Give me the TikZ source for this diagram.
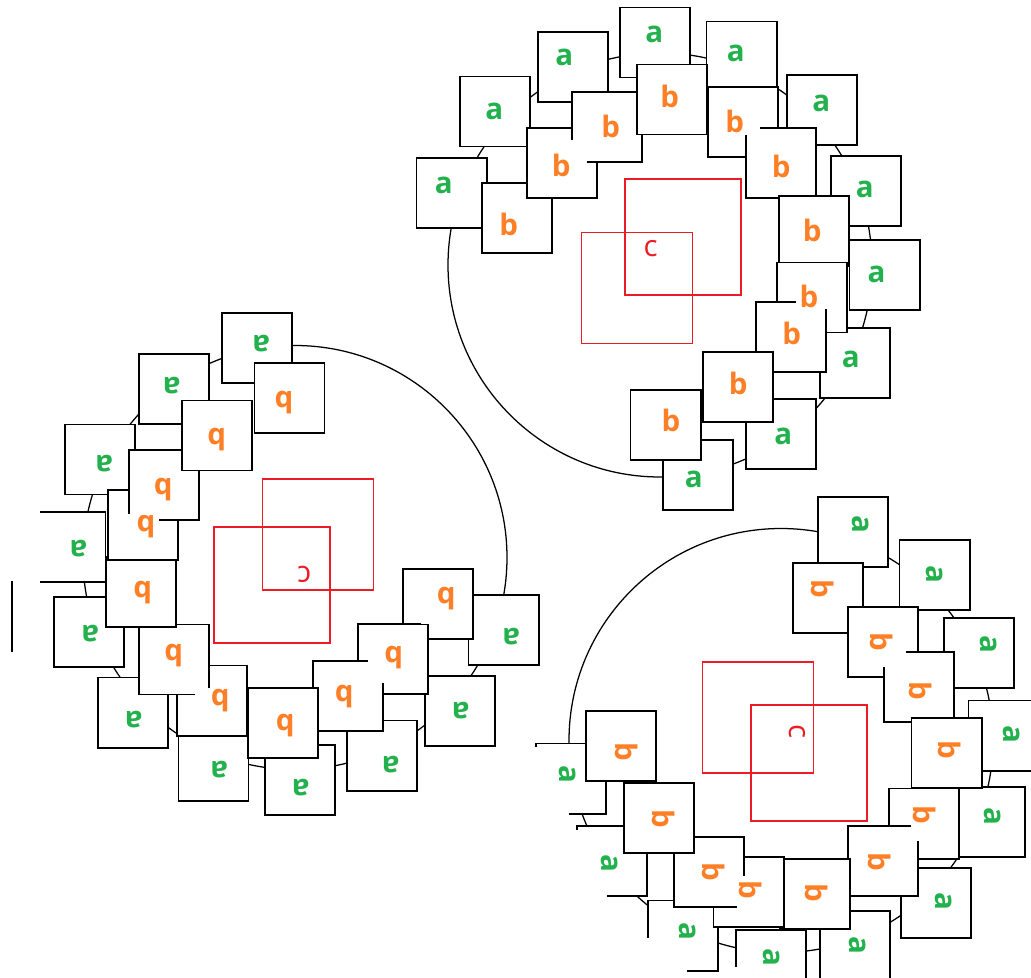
\documentclass[tikz,border=0pt]{standalone}
\usepackage{fontspec}
\setsansfont{Open Sans}
\definecolor{pgreen}{RGB}{34,177,76}
\definecolor{porange}{RGB}{255,127,39}
\definecolor{pred}{RGB}{237,28,36}
\tikzset{
  tile/.style={draw=black,line width=1.4pt,fill=white,minimum size=1.75cm,inner sep=0pt},
  tag/.style={fill=white,inner xsep=0.1cm,inner ysep=0pt,text width=0.775cm,align=left,
    anchor=base west,xshift=-0.325cm,font=\sffamily\bfseries\fontsize{21}{24}\selectfont},
  tag a/.style={tag,text=pgreen,yshift=-0.2cm,text height=0.525cm,text depth=0.125cm},
  tag b/.style={tag,text=porange,yshift=-0.275cm,text height=0.9cm,text depth=0.05cm},
  core/.style={draw=pred,line width=1.3pt,minimum size=#1,inner sep=0pt},
  mark c/.style={text=pred,inner sep=0pt,font=\sffamily\fontsize{21}{24}\selectfont},
  edge/.style={draw=black,line width=1.4pt},
  blank/.style={fill=white},
  pics/ring/.style={code={
    \draw[line width=0.9pt] (0,0) circle (212);
    \node[tile] (-a1) at (-5,222.5) {};
    \node[tile] (-a2) at (-87.3,198) {};
    \node[tile] (-a3) at (-165.2,153.5) {};
    \node[tile] (-a4) at (-208.5,72.3) {};
    \node[tile] (-a5) at (81.5,208.5) {};
    \node[tile] (-a6) at (162.3,155) {};
    \node[tile] (-a7) at (205.7,74.3) {};
    \node[tile] (-a8) at (224.5,-10.3) {};
    \node[tile] (-a9) at (195,-98) {};
    \node[tile] (-a10) at (120.7,-168.7) {};
    \node[tile] (-a11) at (38,-209.8) {};
    \node[tile] (-b4) at (-142.7,46.7) {};
    \node[tile] (-b3) at (-98.2,101.7) {};
    \node[tile] (-b2) at (-53.2,138.2) {};
    \node[tile] (-b1) at (12.2,165.5) {};
    \node[tile] (-b5) at (83,143) {};
    \node[tile] (-b6) at (120.8,102) {};
    \node[tile] (-b7) at (153.7,34.2) {};
    \node[tile] (-b8) at (151.7,-32.5) {};
    \node[tile] (-b9) at (131.3,-72.2) {};
    \node[tile] (-b10) at (77.8,-122) {};
    \node[tile] (-b11) at (5.5,-159.8) {};
    \node[core=2.9cm] (-r1) at (22.7,27.7) {};
    \node[core=2.775cm] (-r2) at (-23,-23) {};
    \node[mark c] (-c) at (-9.3,16.7) {c};
    \begin{scope}[reset cm] #1 \end{scope}
    \node[tag a] (-ta1) at (-6,230) {a};
    \node[tag a] (-ta2) at (-96,207) {a};
    \node[tag a] (-ta3) at (-166,153) {a};
    \node[tag a] (-ta4) at (-216.3,79.3) {a};
    \node[tag a] (-ta5) at (75.7,211.7) {a};
    \node[tag a] (-ta6) at (161,162) {a};
    \node[tag a] (-ta7) at (204.7,76) {a};
    \node[tag a] (-ta8) at (216.3,-9.4) {a};
    \node[tag a] (-ta9) at (190.7,-94) {a};
    \node[tag a] (-ta10) at (123,-171.7) {a};
    \node[tag a] (-ta11) at (33.7,-214) {a};
    \node[tag b] (-tb1) at (9,168.3) {b};
    \node[tag b] (-tb2) at (-50,139) {b};
    \node[tag b] (-tb3) at (-99.3,100) {b};
    \node[tag b] (-tb4) at (-152,41) {b};
    \node[tag b] (-tb5) at (74,143.3) {b};
    \node[tag b] (-tb6) at (120.7,98.3) {b};
    \node[tag b] (-tb7) at (151.7,35) {b};
    \node[tag b] (-tb8) at (148.3,-31) {b};
    \node[tag b] (-tb9) at (131,-68) {b};
    \node[tag b] (-tb10) at (77.7,-118) {b};
    \node[tag b] (-tb11) at (10.3,-155) {b};
  }}
}
\begin{document}
\begin{tikzpicture}[x=0.025cm,y=0.025cm]
\useasboundingbox (0,0) rectangle (1031,-978);
\clip (0,0) rectangle (1031,-978);
\pic (top) at (660,-265) {ring={}};
\pic[rotate=180,transform shape] (left) at (295,-557.5)
  {ring={\path[blank] (33,-510) rectangle (39.5,-585);}};
\pic[rotate=-90,transform shape] (right) at (781,-740.5)
  {ring={\path[blank] (532,-747) rectangle (569,-817);
         \path[blank] (573,-830) rectangle (607,-899);
         \path[blank] (644,-938) rectangle (687,-975);
         \path[blank] (732,-967) rectangle (771,-980);}};
% loose edge left of the left ring
\coordinate (loose-t) at (11.7,-581);
\coordinate (loose-b) at (11.7,-652);
\draw[edge] (loose-t) -- (loose-b);
\end{tikzpicture}
\end{document}
